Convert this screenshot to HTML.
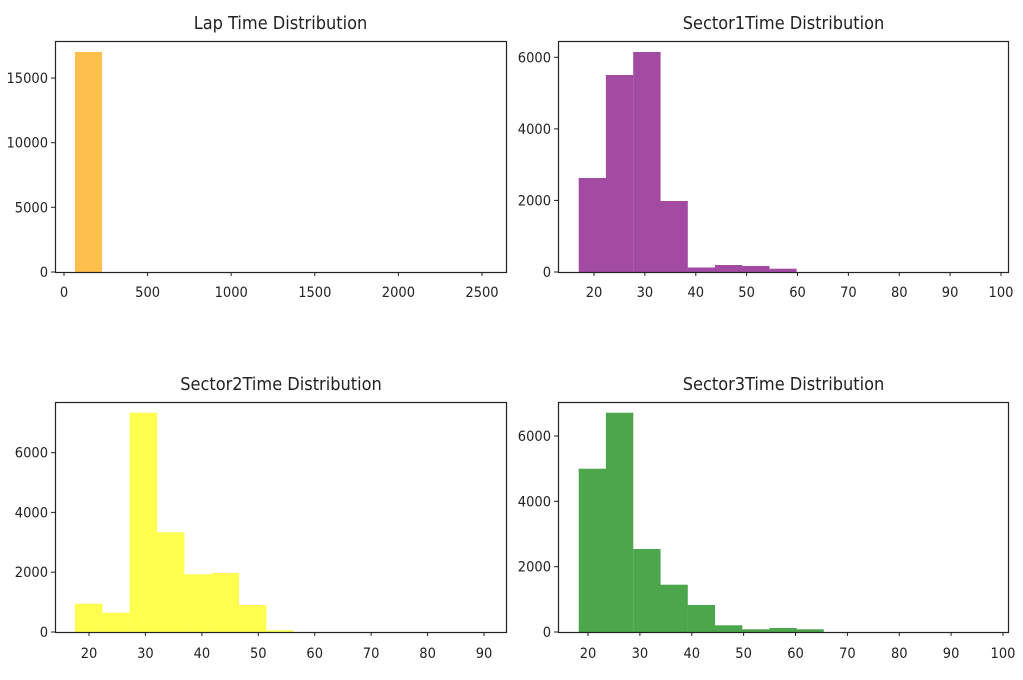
<!DOCTYPE html>
<html><head><meta charset="utf-8"><style>
html,body{margin:0;padding:0;background:#fff;}
svg text{font-family:"DejaVu Sans Condensed","Liberation Sans Narrow","DejaVu Sans",sans-serif;fill:#222;}
.t{font-size:14.5px;}
.h{font-size:18px;}
</style></head><body>
<svg width="1023" height="675" viewBox="0 0 1023 675" xmlns="http://www.w3.org/2000/svg">
<rect width="1023" height="675" fill="#fff"/>
<!-- Panel 1 -->
<rect x="75" y="52" width="27" height="220" fill="#FFBF4D"/>
<rect x="55.5" y="41.5" width="451" height="231" fill="none" stroke="#222" stroke-width="1.2"/>
<text class="h" x="280.5" y="29" text-anchor="middle">Lap Time Distribution</text>
<g stroke="#222" stroke-width="1">
<line x1="64" y1="272" x2="64" y2="276"/><line x1="147.6" y1="272" x2="147.6" y2="276"/><line x1="231.2" y1="272" x2="231.2" y2="276"/><line x1="314.8" y1="272" x2="314.8" y2="276"/><line x1="398.4" y1="272" x2="398.4" y2="276"/><line x1="482" y1="272" x2="482" y2="276"/>
<line x1="51" y1="272" x2="55" y2="272"/><line x1="51" y1="207.3" x2="55" y2="207.3"/><line x1="51" y1="142.7" x2="55" y2="142.7"/><line x1="51" y1="78" x2="55" y2="78"/>
</g>
<g class="t" text-anchor="middle">
<text x="64" y="297">0</text><text x="147.6" y="297">500</text><text x="231.2" y="297">1000</text><text x="314.8" y="297">1500</text><text x="398.4" y="297">2000</text><text x="482" y="297">2500</text>
</g>
<g class="t" text-anchor="end">
<text x="48" y="277">0</text><text x="48" y="212.3">5000</text><text x="48" y="147.7">10000</text><text x="48" y="83">15000</text>
</g>

<!-- Panel 2 -->
<g fill="#A34BA3">
<rect x="578.7" y="178" width="27.4" height="94"/>
<rect x="605.9" y="75" width="27.4" height="197"/>
<rect x="633.2" y="52" width="27.4" height="220"/>
<rect x="660.4" y="201" width="27.4" height="71"/>
<rect x="687.6" y="267.5" width="27.4" height="4.5"/>
<rect x="714.9" y="265" width="27.4" height="7"/>
<rect x="742.1" y="266" width="27.4" height="6"/>
<rect x="769.4" y="268.7" width="27.2" height="3.3"/>
</g>
<rect x="558.5" y="41.5" width="450" height="231" fill="none" stroke="#222" stroke-width="1.2"/>
<text class="h" x="783.5" y="29" text-anchor="middle">Sector1Time Distribution</text>
<g stroke="#222" stroke-width="1">
<line x1="594" y1="272" x2="594" y2="276"/><line x1="644.9" y1="272" x2="644.9" y2="276"/><line x1="695.8" y1="272" x2="695.8" y2="276"/><line x1="746.6" y1="272" x2="746.6" y2="276"/><line x1="797.5" y1="272" x2="797.5" y2="276"/><line x1="848.4" y1="272" x2="848.4" y2="276"/><line x1="899.3" y1="272" x2="899.3" y2="276"/><line x1="950.1" y1="272" x2="950.1" y2="276"/><line x1="1001" y1="272" x2="1001" y2="276"/>
<line x1="554" y1="272" x2="558" y2="272"/><line x1="554" y1="200.4" x2="558" y2="200.4"/><line x1="554" y1="128.9" x2="558" y2="128.9"/><line x1="554" y1="57.3" x2="558" y2="57.3"/>
</g>
<g class="t" text-anchor="middle">
<text x="594" y="297">20</text><text x="644.9" y="297">30</text><text x="695.8" y="297">40</text><text x="746.6" y="297">50</text><text x="797.5" y="297">60</text><text x="848.4" y="297">70</text><text x="899.3" y="297">80</text><text x="950.1" y="297">90</text><text x="1001" y="297">100</text>
</g>
<g class="t" text-anchor="end">
<text x="551" y="277">0</text><text x="551" y="205.4">2000</text><text x="551" y="133.9">4000</text><text x="551" y="62.3">6000</text>
</g>

<!-- Panel 3 -->
<g fill="#FFFF4D">
<rect x="75" y="603.7" width="27.4" height="28.3"/>
<rect x="102.3" y="612.7" width="27.5" height="19.3"/>
<rect x="129.7" y="412.7" width="27.4" height="219.3"/>
<rect x="157" y="532.3" width="27.4" height="99.7"/>
<rect x="184.3" y="574.3" width="27.5" height="57.7"/>
<rect x="211.7" y="573" width="27.4" height="59"/>
<rect x="239" y="605" width="27.4" height="27"/>
<rect x="266.3" y="630.3" width="27.4" height="1.7"/>
</g>
<rect x="55.5" y="402.5" width="451" height="230" fill="none" stroke="#222" stroke-width="1.2"/>
<text class="h" x="281" y="390" text-anchor="middle">Sector2Time Distribution</text>
<g stroke="#222" stroke-width="1">
<line x1="89" y1="632" x2="89" y2="636"/><line x1="145.4" y1="632" x2="145.4" y2="636"/><line x1="201.9" y1="632" x2="201.9" y2="636"/><line x1="258.3" y1="632" x2="258.3" y2="636"/><line x1="314.7" y1="632" x2="314.7" y2="636"/><line x1="371.1" y1="632" x2="371.1" y2="636"/><line x1="427.6" y1="632" x2="427.6" y2="636"/><line x1="484" y1="632" x2="484" y2="636"/>
<line x1="51" y1="632" x2="55" y2="632"/><line x1="51" y1="572.2" x2="55" y2="572.2"/><line x1="51" y1="512.4" x2="55" y2="512.4"/><line x1="51" y1="452.7" x2="55" y2="452.7"/>
</g>
<g class="t" text-anchor="middle">
<text x="89" y="658">20</text><text x="145.4" y="658">30</text><text x="201.9" y="658">40</text><text x="258.3" y="658">50</text><text x="314.7" y="658">60</text><text x="371.1" y="658">70</text><text x="427.6" y="658">80</text><text x="484" y="658">90</text>
</g>
<g class="t" text-anchor="end">
<text x="48" y="637">0</text><text x="48" y="577.2">2000</text><text x="48" y="517.4">4000</text><text x="48" y="457.7">6000</text>
</g>

<!-- Panel 4 -->
<g fill="#4CA64C">
<rect x="578.7" y="468.7" width="27.4" height="163.3"/>
<rect x="605.9" y="412.7" width="27.4" height="219.3"/>
<rect x="633.2" y="549" width="27.4" height="83"/>
<rect x="660.4" y="584.7" width="27.4" height="47.3"/>
<rect x="687.6" y="605" width="27.4" height="27"/>
<rect x="714.9" y="625.3" width="27.4" height="6.7"/>
<rect x="742.1" y="629.3" width="27.4" height="2.7"/>
<rect x="769.4" y="628" width="27.4" height="4"/>
<rect x="796.6" y="629.3" width="27.2" height="2.7"/>
</g>
<rect x="558.5" y="402.5" width="450" height="230" fill="none" stroke="#222" stroke-width="1.2"/>
<text class="h" x="783.5" y="390" text-anchor="middle">Sector3Time Distribution</text>
<g stroke="#222" stroke-width="1">
<line x1="588" y1="632" x2="588" y2="636"/><line x1="639.9" y1="632" x2="639.9" y2="636"/><line x1="691.8" y1="632" x2="691.8" y2="636"/><line x1="743.6" y1="632" x2="743.6" y2="636"/><line x1="795.5" y1="632" x2="795.5" y2="636"/><line x1="847.4" y1="632" x2="847.4" y2="636"/><line x1="899.3" y1="632" x2="899.3" y2="636"/><line x1="951.1" y1="632" x2="951.1" y2="636"/><line x1="1003" y1="632" x2="1003" y2="636"/>
<line x1="554" y1="632" x2="558" y2="632"/><line x1="554" y1="566.7" x2="558" y2="566.7"/><line x1="554" y1="501.3" x2="558" y2="501.3"/><line x1="554" y1="436" x2="558" y2="436"/>
</g>
<g class="t" text-anchor="middle">
<text x="588" y="658">20</text><text x="639.9" y="658">30</text><text x="691.8" y="658">40</text><text x="743.6" y="658">50</text><text x="795.5" y="658">60</text><text x="847.4" y="658">70</text><text x="899.3" y="658">80</text><text x="951.1" y="658">90</text><text x="1003" y="658">100</text>
</g>
<g class="t" text-anchor="end">
<text x="551" y="637">0</text><text x="551" y="571.7">2000</text><text x="551" y="506.3">4000</text><text x="551" y="441">6000</text>
</g>
</svg>
</body></html>
